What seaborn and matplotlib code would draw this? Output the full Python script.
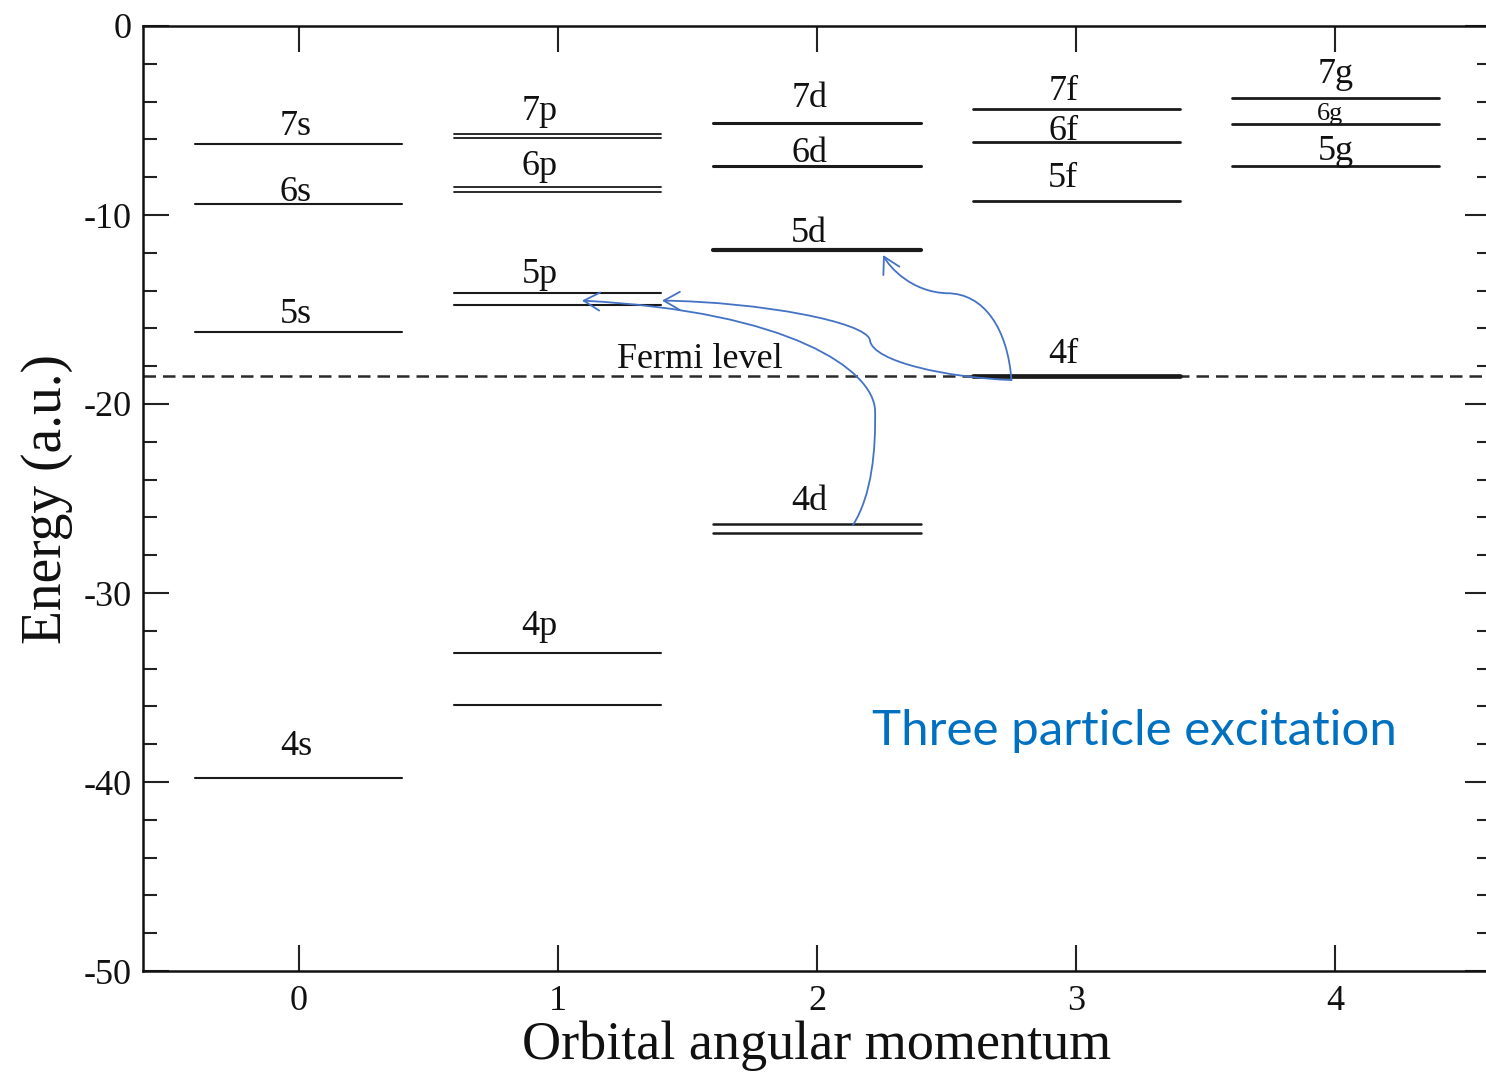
import numpy as np
import pandas as pd
import matplotlib
matplotlib.use("Agg")
import matplotlib.pyplot as plt
from matplotlib.path import Path
from matplotlib.patches import FancyArrowPatch
import seaborn as sns

# ---- single-particle levels: orbital angular momentum l and energy (a.u.) ----
level_l = [0, 0, 0, 0,
           1, 1, 1, 1, 1, 1, 1, 1,
           2, 2, 2, 2, 2,
           3, 3, 3, 3,
           4, 4, 4]
level_E = [-6.24, -9.43, -16.17, -39.80,
           -5.72, -5.90, -8.50, -8.78, -14.11, -14.76, -33.20, -35.90,
           -5.12, -7.41, -11.85, -26.35, -26.84,
           -4.37, -6.14, -9.26, -18.52,
           -3.81, -5.17, -7.41]
level_lw = [1.5, 1.5, 1.5, 1.5,
            1.3, 1.3, 1.3, 1.3, 1.5, 1.5, 1.5, 1.5,
            2.2, 2.2, 3.0, 1.8, 1.8,
            2.0, 2.0, 2.0, 3.4,
            2.0, 2.0, 2.0]

# ---- orbital labels: text, l position, baseline energy ----
label_text = ["7s", "6s", "5s", "4s",
              "7p", "6p", "5p", "4p",
              "7d", "6d", "5d", "4d",
              "7f", "6f", "5f", "4f",
              "7g", "6g", "5g"]
label_x = [-0.01, -0.01, -0.01, -0.01,
           0.93, 0.93, 0.93, 0.93,
           1.97, 1.97, 1.97, 1.97,
           2.95, 2.95, 2.95, 2.95,
           4.00, 3.98, 4.00]
label_E = [-5.77, -9.26, -15.71, -38.57,
           -4.97, -7.88, -13.60, -32.22,
           -4.29, -7.20, -11.43, -25.61,
           -3.92, -6.03, -8.52, -17.83,
           -3.00, -4.95, -7.09]
label_size = [26] * 17 + [19, 26]

fermi_E = -18.52
x_ticks = [0, 1, 2, 3, 4]
y_ticks = [0, -10, -20, -30, -40, -50]

half_width = 0.4

sns.set_theme(style="ticks")
plt.rcParams["font.family"] = ["Liberation Serif", "DejaVu Serif"]
plt.rcParams["axes.unicode_minus"] = False

fig = plt.figure(figsize=(14.86, 10.73), dpi=100)
ax = fig.add_axes([143 / 1486, 102 / 1073, 1348 / 1486, 945 / 1073])

# each level as a short horizontal segment centred on its l value
rows = []
for i, (l, e) in enumerate(zip(level_l, level_E)):
    rows.append({"level": i, "x": l - half_width, "E": e})
    rows.append({"level": i, "x": l + half_width, "E": e})
levels = pd.DataFrame(rows)

for w in sorted(set(level_lw)):
    ids = [i for i, lw in enumerate(level_lw) if lw == w]
    sub = levels[levels["level"].isin(ids)]
    sns.lineplot(data=sub, x="x", y="E", units="level", estimator=None,
                 color="#1a1a1a", linewidth=w, sort=False, legend=False, ax=ax)

# Fermi level
ax.axhline(fermi_E, color="#2a2a2a", linewidth=1.8, dashes=(5, 2.8), zorder=1)
ax.text(1.55, fermi_E + 0.42, "Fermi level", ha="center", va="baseline",
        fontsize=26, color="#111111")

for t, x, e, s in zip(label_text, label_x, label_E, label_size):
    ax.text(x, e, t, ha="center", va="baseline", fontsize=s, color="#111111")

# excitation arrows (cubic Bezier paths in data space)
arrow_blue = "#4472C4"
C4 = Path.CURVE4
arrow_paths = [
    # 4f -> 5d
    ([(2.750, -18.73), (2.736, -16.08), (2.647, -14.13), (2.500, -14.14),
      (2.366, -14.07), (2.281, -12.80), (2.255, -12.12)]),
    # 4f -> 5p
    ([(2.750, -18.73), (2.513, -18.62), (2.212, -17.78), (2.204, -16.61),
      (2.189, -15.66), (1.780, -14.60), (1.402, -14.53)]),
    # 4d -> 5p
    ([(2.139, -26.40), (2.212, -24.81), (2.227, -22.43), (2.224, -20.32),
      (2.216, -18.20), (1.900, -15.10), (1.093, -14.53)]),
]
for verts in arrow_paths:
    codes = [Path.MOVETO] + [C4] * (len(verts) - 1)
    arr = FancyArrowPatch(path=Path(verts, codes),
                          arrowstyle="->,head_length=11.5,head_width=6.5",
                          color=arrow_blue, linewidth=1.3, zorder=5)
    ax.add_patch(arr)

ax.text(2.212, -38.04, "Three particle excitation", ha="left", va="baseline",
        fontsize=35.5, color="#0070C0", family=["Lato", "DejaVu Sans"])

# axes, ticks and labels
ax.set_xlim(-0.6, 4.6)
ax.set_ylim(-50, 0)
ax.set_xticks(x_ticks)
ax.set_yticks(y_ticks)
ax.set_yticks(np.arange(-48, 0, 2), minor=True)
ax.set_xticklabels([str(v) for v in x_ticks])
ax.set_yticklabels([str(v) for v in y_ticks])
ax.tick_params(axis="both", which="major", direction="in", length=19, width=1.5,
               labelsize=26, color="#222222", labelcolor="#111111")
ax.tick_params(axis="y", which="minor", direction="in", length=10, width=1.5,
               color="#222222")
ax.tick_params(axis="y", which="both", left=True, right=True, pad=8)
ax.tick_params(axis="x", which="both", top=True, bottom=True, pad=10)
ax.tick_params(axis="x", which="minor", top=False, bottom=False)
for sp in ax.spines.values():
    sp.set_visible(True)
    sp.set_linewidth(1.8)
    sp.set_color("#111111")

ax.set_xlabel("Orbital angular momentum", fontsize=39, labelpad=2, color="#111111")
ax.set_ylabel("Energy (a.u.)", fontsize=40, labelpad=8, color="#111111")

fig.savefig("out.png", dpi=100, facecolor="white")
